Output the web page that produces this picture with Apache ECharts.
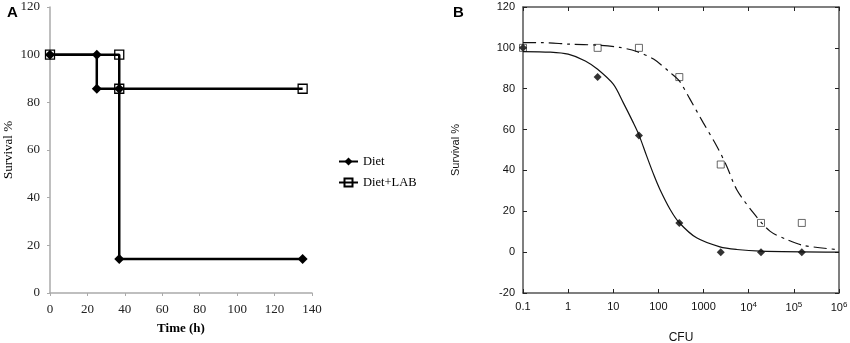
<!DOCTYPE html>
<html>
<head>
<meta charset="utf-8">
<script src="https://cdn.jsdelivr.net/npm/echarts@6/dist/echarts.min.js"></script>
<style>
 html, body { margin: 0; padding: 0; background: #fff; }
 #chart { width: 850px; height: 343px; }
</style>
</head>
<body>
<div id="chart"></div>
<script>
// panel A - survival over time
const timeTicks = [0, 20, 40, 60, 80, 100, 120, 140]
const dietA = [[0, 100], [25, 100], [25, 85.7], [37, 85.7], [37, 14.3], [135, 14.3]]
const dietLabA = [[0, 100], [37, 100], [37, 85.7], [135, 85.7]]

// panel B - survival vs dose (CFU)
const cfuDoses = [0.1, 4.5, 37, 290, 2400, 18700, 150000]
const dietB = [100, 85.7, 57.1, 14.3, 0, 0, 0]
const dietLabB = [100, 100, 100, 85.7, 42.9, 14.3, 14.3]
// fitted curves
const dietFit = [[0.1, 98.2], [0.4, 97.9], [1, 96.9], [2.4, 93.6], [4.5, 89.5], [10, 82.2],
 [16.6, 73.2], [27.7, 63.4], [37, 57.4], [55, 47], [80, 37.5], [108, 30.7], [182, 20.9],
 [290, 14.4], [700, 7], [2300, 2.6], [5400, 1.3], [18000, 0.5], [1000000, 0]]
const dietLabFit = [[0.1, 102.6], [0.24, 102.6], [1.1, 101.8], [4.5, 101.3], [14, 100.2],
 [33, 98.2], [78, 94.5], [182, 87.9], [290, 83.8], [500, 74.9], [980, 63.4], [1950, 52],
 [3240, 42.2], [5400, 30.7], [12600, 19.3], [29500, 10.3], [69000, 6.2], [162000, 3.3],
 [890000, 1.3]]

const serif = '"Liberation Serif", "DejaVu Serif", serif'
const sans = '"Liberation Sans", Arial, sans-serif'
const frame = '#555'

const cfuLabel = (v) => {
 const e = Math.round(Math.log10(v))
 if (e < 4) return String(v)
 return '10{sup|' + e + '}'
}

const setOption = () => {
 return {
  animation: false,
  title: [
   { text: 'A', left: 2, top: 0, textStyle: { fontFamily: sans, fontSize: 15, fontWeight: 'bold', color: '#000' } },
   { text: 'B', left: 448, top: 0, textStyle: { fontFamily: sans, fontSize: 15, fontWeight: 'bold', color: '#000' } }
  ],
  legend: {
   data: ['Diet', 'Diet+LAB'],
   orient: 'vertical',
   left: 338,
   top: 155,
   padding: 0,
   itemWidth: 19,
   itemHeight: 10,
   itemGap: 8,
   textStyle: { fontFamily: serif, fontSize: 12.5, color: '#000' }
  },
  grid: [
   { left: 50, top: 7, width: 262, height: 286, outerBoundsMode: 'none' },
   { left: 523, top: 7, width: 316, height: 286, outerBoundsMode: 'none' }
  ],
  xAxis: [
   {
    gridIndex: 0, type: 'value', min: timeTicks[0], max: timeTicks[timeTicks.length - 1], interval: 20,
    name: 'Time (h)', nameLocation: 'middle', nameGap: 29,
    nameTextStyle: { fontFamily: serif, fontSize: 13, fontWeight: 'bold', color: '#000' },
    axisLine: { lineStyle: { color: '#aaa', width: 1.5 } },
    axisTick: { show: true, length: 3, lineStyle: { color: '#aaa' } },
    axisLabel: { fontFamily: serif, fontSize: 13, color: '#222', margin: 10 },
    splitLine: { show: false }
   },
   {
    gridIndex: 1, type: 'log', logBase: 10, min: 0.1, max: 1000000,
    name: 'CFU', nameLocation: 'middle', nameGap: 39,
    nameTextStyle: { fontFamily: sans, fontSize: 12, color: '#111' },
    axisLine: { onZero: false, lineStyle: { color: frame, width: 1.5 } },
    axisTick: { inside: true, length: 4, lineStyle: { color: '#222' } },
    axisLabel: {
     fontFamily: sans, fontSize: 11, color: '#111', margin: 8, formatter: cfuLabel,
     rich: { sup: { fontFamily: sans, fontSize: 8, color: '#111', verticalAlign: 'top', padding: [0, 0, 6, 0] } }
    },
    splitLine: { show: false }
   },
   {
    gridIndex: 1, type: 'log', logBase: 10, min: 0.1, max: 1000000, position: 'top',
    axisLine: { onZero: false, lineStyle: { color: frame, width: 1.5 } },
    axisTick: { inside: true, length: 4, lineStyle: { color: '#222' } },
    axisLabel: { show: false },
    splitLine: { show: false }
   }
  ],
  yAxis: [
   {
    gridIndex: 0, type: 'value', min: 0, max: 120, interval: 20,
    name: 'Survival %', nameLocation: 'middle', nameGap: 35,
    nameTextStyle: { fontFamily: serif, fontSize: 13, color: '#000' },
    axisLine: { show: true, lineStyle: { color: '#aaa', width: 1.5 } },
    axisTick: { show: true, length: 3, lineStyle: { color: '#aaa' } },
    axisLabel: { fontFamily: serif, fontSize: 13, color: '#222', margin: 10 },
    splitLine: { show: false }
   },
   {
    gridIndex: 1, type: 'value', min: -20, max: 120, interval: 20,
    name: 'Survival %', nameLocation: 'middle', nameGap: 62,
    nameTextStyle: { fontFamily: sans, fontSize: 11, color: '#111' },
    axisLine: { show: true, onZero: false, lineStyle: { color: frame, width: 1.5 } },
    axisTick: { show: true, inside: true, length: 4, lineStyle: { color: '#222' } },
    axisLabel: { fontFamily: sans, fontSize: 11, color: '#111', margin: 8 },
    splitLine: { show: false }
   },
   {
    gridIndex: 1, type: 'value', min: -20, max: 120, interval: 20, position: 'right',
    axisLine: { show: true, onZero: false, lineStyle: { color: frame, width: 1.5 } },
    axisTick: { show: true, inside: true, length: 4, lineStyle: { color: '#222' } },
    axisLabel: { show: false },
    splitLine: { show: false }
   }
  ],
  series: [
   {
    name: 'Diet+LAB', type: 'line', xAxisIndex: 0, yAxisIndex: 0, data: dietLabA,
    symbol: 'rect', symbolSize: 9,
    lineStyle: { color: '#000', width: 2.5 },
    itemStyle: { color: 'rgba(0,0,0,0)', borderColor: '#000', borderWidth: 1.3 }
   },
   {
    name: 'Diet', type: 'line', xAxisIndex: 0, yAxisIndex: 0, data: dietA,
    symbol: 'diamond', symbolSize: 10,
    lineStyle: { color: '#000', width: 2.5 },
    itemStyle: { color: '#000' }
   },
   {
    name: 'fitDiet', type: 'line', xAxisIndex: 1, yAxisIndex: 1, data: dietFit,
    smooth: 0.3, showSymbol: false, silent: true,
    lineStyle: { color: '#111', width: 1.2 }
   },
   {
    name: 'fitDietLab', type: 'line', xAxisIndex: 1, yAxisIndex: 1, data: dietLabFit,
    smooth: 0.3, showSymbol: false, silent: true,
    lineStyle: { color: '#111', width: 1.2, type: [13, 5, 3, 5] }
   },
   {
    name: 'ptsDietLab', type: 'scatter', xAxisIndex: 1, yAxisIndex: 1,
    data: cfuDoses.map((x, i) => [x, dietLabB[i]]),
    symbol: 'rect', symbolSize: 7,
    itemStyle: { color: '#fff', borderColor: '#444', borderWidth: 1 }
   },
   {
    name: 'ptsDiet', type: 'scatter', xAxisIndex: 1, yAxisIndex: 1,
    data: cfuDoses.map((x, i) => [x, dietB[i]]),
    symbol: 'diamond', symbolSize: 8,
    itemStyle: { color: '#000' }
   }
  ]
 }
}

const myChart = echarts.init(document.getElementById('chart'))
myChart.setOption(setOption(), true)
</script>
</body>
</html>
